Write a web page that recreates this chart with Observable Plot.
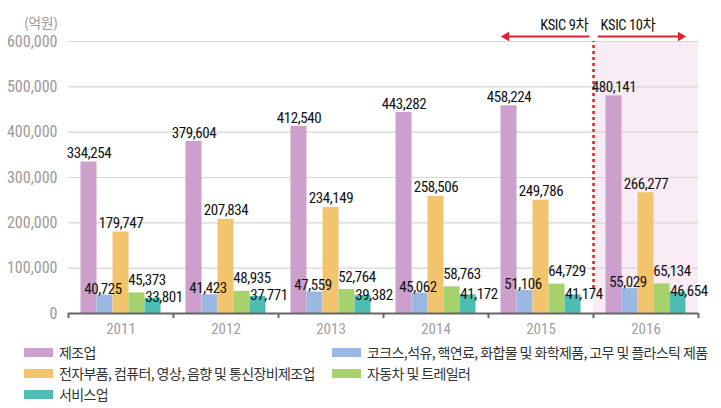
<!DOCTYPE html>
<html>
<head>
<meta charset="utf-8">
<script src="https://cdn.jsdelivr.net/npm/d3@7"></script>
<script src="https://cdn.jsdelivr.net/npm/@observablehq/plot@0.6"></script>
<style>
  body { margin: 0; background: #fff; width: 721px; height: 408px; overflow: hidden; }
  #chart svg { display: block; }
  #chart g[aria-label="text"] text { letter-spacing: -0.4px; }
  .legend { display: grid; grid-template-columns: 308px auto; padding-left: 24px; padding-top: 2px;
    font-family: "Noto Sans CJK KR", sans-serif; font-size: 14px; color: #333; letter-spacing: -0.6px; line-height: 21px; }
  .item { display: flex; align-items: center; white-space: nowrap; }
  .sw { display: inline-block; width: 29px; height: 9px; margin-right: 6px; flex: none; }
</style>
</head>
<body>
<div id="chart"></div>
<div id="legend" class="legend"></div>
<script>
const years = ["2011", "2012", "2013", "2014", "2015", "2016"];
const seriesNames = [
  "제조업",
  "코크스,석유, 핵연료, 화합물 및 화학제품, 고무 및 플라스틱 제품",
  "전자부품, 컴퓨터, 영상, 음향 및 통신장비제조업",
  "자동차 및 트레일러",
  "서비스업"
];
const manufacturing = [334254, 379604, 412540, 443282, 458224, 480141];
const cokePetroChem = [40725, 41423, 47559, 45062, 51106, 55029];
const electronics   = [179747, 207834, 234149, 258506, 249786, 266277];
const autoTrailer   = [45373, 48935, 52764, 58763, 64729, 65134];
const services      = [33801, 37771, 39382, 41172, 41174, 46654];
const yTicks = [0, 100000, 200000, 300000, 400000, 500000, 600000];
const unitLabel = "(억원)";
const ksicLabels = ["KSIC 9차", "KSIC 10차"];

// styles
const colors = ["#cc9fcc", "#9bb8e2", "#f2c46d", "#a7d26b", "#4dbdb4"];
const labelDx = [0, -2, 0, 10, 11];
const labelDy = [-3.5, -1.5, -4, -8, 4];
const numFont = "'Liberation Sans Narrow', 'Roboto Condensed', 'Arial Narrow', 'Noto Sans CJK KR', sans-serif";
const red = "#e0202f";

const allSeries = [manufacturing, cokePetroChem, electronics, autoTrailer, services];
const groupPad = 12.5 / 105, barW = 16 / 105;
const rows = [];
allSeries.forEach((vals, k) => vals.forEach((v, i) => rows.push({
  gi: i, k, value: v, series: seriesNames[k],
  x1: i + groupPad + k * barW, x2: i + groupPad + (k + 1) * barW
})));
const fmt = d3.format(",");

const marks = [
  Plot.rectY([{}], {x1: 5, x2: 6, y1: 0, y2: 600000, fill: "#f9ecf5"}),
  Plot.gridY(yTicks, {stroke: "#d6d6d6", strokeOpacity: 1, strokeWidth: 1.2}),
  Plot.axisY(yTicks, {label: null, tickSize: 0, tickPadding: 11, tickFormat: fmt, fill: "#9a9a9a", fontSize: 16, fontFamily: numFont}),
  Plot.rect(rows, {x1: "x1", x2: "x2", y1: 0, y2: "value", fill: d => colors[d.k]}),
  Plot.ruleX([5], {y1: 0, y2: 600000, insetTop: -25, stroke: red, strokeWidth: 2.5, strokeDasharray: "3,3"}),
  Plot.ruleY([0], {stroke: "#666", strokeWidth: 2}),
  Plot.axisX(d3.range(7), {label: null, tickSize: 5, tickFormat: () => "", stroke: "#666", strokeWidth: 2}),
  Plot.axisX(d3.range(6).map(i => i + 0.5), {label: null, tickSize: 0, tickPadding: 10, tickFormat: v => years[Math.floor(v)], fill: "#a0a0a0", fontSize: 15, fontFamily: numFont}),
  Plot.text([unitLabel], {frameAnchor: "top-left", text: d => d, textAnchor: "end", dx: -11, dy: -23, fill: "#9a9a9a", fontSize: 14, fontFamily: "'Noto Sans CJK KR', sans-serif"}),
  // KSIC annotations
  Plot.link([{a: 4.96, b: 4.17}, {a: 5.04, b: 5.83}], {x1: "a", x2: "b", y1: 600000, y2: 600000, dy: -5, stroke: red, strokeWidth: 2}),
  Plot.dot([{x: 4.17, r: -90}, {x: 5.83, r: 90}], {x: "x", y: 600000, dy: -5, rotate: "r", symbol: "triangle2", r: 4.5, fill: red}),
  Plot.text([ksicLabels[0]], {x: 5, y: 600000, text: d => d, textAnchor: "end", dx: -5, dy: -16, fontSize: 14.5, fill: "#111", fontFamily: numFont}),
  Plot.text([ksicLabels[1]], {x: 5, y: 600000, text: d => d, textAnchor: "start", dx: 7, dy: -16, fontSize: 14.5, fill: "#111", fontFamily: numFont})
];
allSeries.forEach((vals, k) => {
  marks.push(Plot.text(rows.filter(d => d.k === k), {
    x: d => (d.x1 + d.x2) / 2, y: "value", text: d => fmt(d.value),
    lineAnchor: "bottom", dx: labelDx[k], dy: labelDy[k],
    fontSize: 15, fill: "#111", fontFamily: numFont
  }));
});

const chart = Plot.plot({
  width: 721, height: 340,
  marginLeft: 68, marginRight: 23, marginTop: 41, marginBottom: 27,
  x: {type: "linear", domain: [0, 6], axis: null},
  y: {domain: [0, 600000], axis: null},
  style: {background: "white", overflow: "visible"},
  marks
});
document.getElementById("chart").appendChild(chart);

const legend = document.getElementById("legend");
[0, 1, 2, 3, 4].forEach(k => {
  const it = document.createElement("div");
  it.className = "item";
  const sw = document.createElement("span");
  sw.className = "sw";
  sw.style.background = colors[k];
  it.appendChild(sw);
  it.appendChild(document.createTextNode(seriesNames[k]));
  legend.appendChild(it);
});
</script>
</body>
</html>
